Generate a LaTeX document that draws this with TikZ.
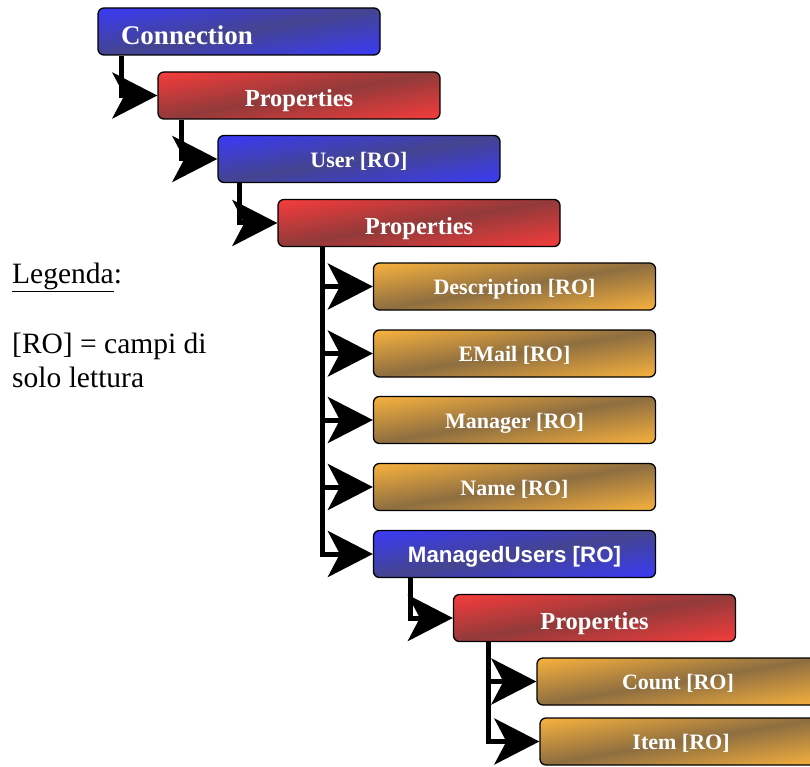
\documentclass[tikz,border=0pt]{standalone}
\usepackage{fontspec}
\setmainfont{Liberation Serif}
\newfontfamily\arialfont{Liberation Sans}
\usetikzlibrary{arrows.meta}

% Diagonal gradients stretched over each box: bright at the top-left and
% bottom-right corners, dark along the bottom-left/top-right diagonal.
% t = |x - y| / 50 (box occupies 25bp..75bp), colour = low + t (high - low)
\pgfdeclarefunctionalshading{bluegrad}{\pgfpointorigin}{\pgfpoint{100bp}{100bp}}{}{
  sub 50 div abs dup 1 gt {pop 1} if
  dup -0.04 mul 0.267 add exch
  dup -0.04 mul 0.267 add exch
  0.40 mul 0.565 add
}
\pgfdeclarefunctionalshading{redgrad}{\pgfpointorigin}{\pgfpoint{100bp}{100bp}}{}{
  sub 50 div abs dup 1 gt {pop 1} if
  dup 0.392 mul 0.573 add exch
  dup 0.008 mul 0.227 add exch
  0.008 mul 0.227 add
}
\pgfdeclarefunctionalshading{oragrad}{\pgfpointorigin}{\pgfpoint{100bp}{100bp}}{}{
  sub 50 div abs dup 1 gt {pop 1} if
  dup 0.416 mul 0.557 add exch
  dup 0.267 mul 0.431 add exch
  -0.008 mul 0.251 add
}

\tikzset{
  box/.style={draw=black, line width=1.3pt, rounded corners=6pt,
    minimum width=282pt, minimum height=47pt, inner sep=0pt,
    text=white, text depth=0pt},
  bluebox/.style={box, shade, shading=bluegrad},
  redbox/.style={box, shade, shading=redgrad},
  orabox/.style={box, shade, shading=oragrad},
  propfont/.style={font=\fontsize{24.5}{28}\selectfont\bfseries, text height=22pt},
  itemfont/.style={font=\fontsize{22}{26}\selectfont\bfseries, text height=16.5pt},
  conn/.style={line width=5pt, line join=miter,
    -{Stealth[length=45pt,width=46pt,inset=12pt]}},
  legend/.style={anchor=base west, inner sep=0pt, font=\fontsize{29.5}{34}\selectfont, align=left}
}

\begin{document}
\begin{tikzpicture}[x=1pt, y=-1pt]
  \useasboundingbox (0,0) rectangle (810,767);
  \clip (0,0) rectangle (810,767);

  % boxes of the object tree
  \node[bluebox, font=\fontsize{27}{30}\selectfont\bfseries, text height=27pt,
        align=left, text width=236pt, inner xsep=23pt] (con) at (239,31.5) {Connection};
  \node[redbox, propfont] (p1) at (299,95.5) {Properties};
  \node[bluebox, itemfont] (user) at (359,159) {User [RO]};
  \node[redbox, propfont] (p2) at (419,223) {Properties};
  \node[orabox, itemfont] (desc) at (514.5,286.5) {Description [RO]};
  \node[orabox, itemfont] (email) at (514.5,353.5) {EMail [RO]};
  \node[orabox, itemfont] (mgr) at (514.5,420) {Manager [RO]};
  \node[orabox, itemfont] (name) at (514.5,487) {Name [RO]};
  \node[bluebox, font=\fontsize{22.3}{26}\selectfont\arialfont\bfseries, text height=17.8pt] (mu) at (514.5,554) {ManagedUsers [RO]};
  \node[redbox, propfont] (p3) at (594.5,618) {Properties};
  \node[orabox, itemfont] (count) at (678,681.5) {Count [RO]};
  \node[orabox, itemfont] (item) at (681,741.5) {Item [RO]};

  % connectors
  \draw[conn] ([xshift=24pt]con.south west) |- (p1.west);
  \draw[conn] ([xshift=24pt]p1.south west) |- (user.west);
  \draw[conn] ([xshift=22pt]user.south west) |- (p2.west);
  \foreach \c in {desc,email,mgr,name,mu}
    \draw[conn] ([xshift=45pt]p2.south west) |- (\c.west);
  \draw[conn] ([xshift=38pt]mu.south west) |- (p3.west);
  \foreach \c in {count,item}
    \draw[conn] ([xshift=36pt]p3.south west) |- (\c.west);

  % legend
  \node[legend] (legtitle) at (12,283) {\underline{Legenda}:};
  \node[legend] (legbody) at (12,387) {[RO] = campi di\\solo lettura};
\end{tikzpicture}
\end{document}
